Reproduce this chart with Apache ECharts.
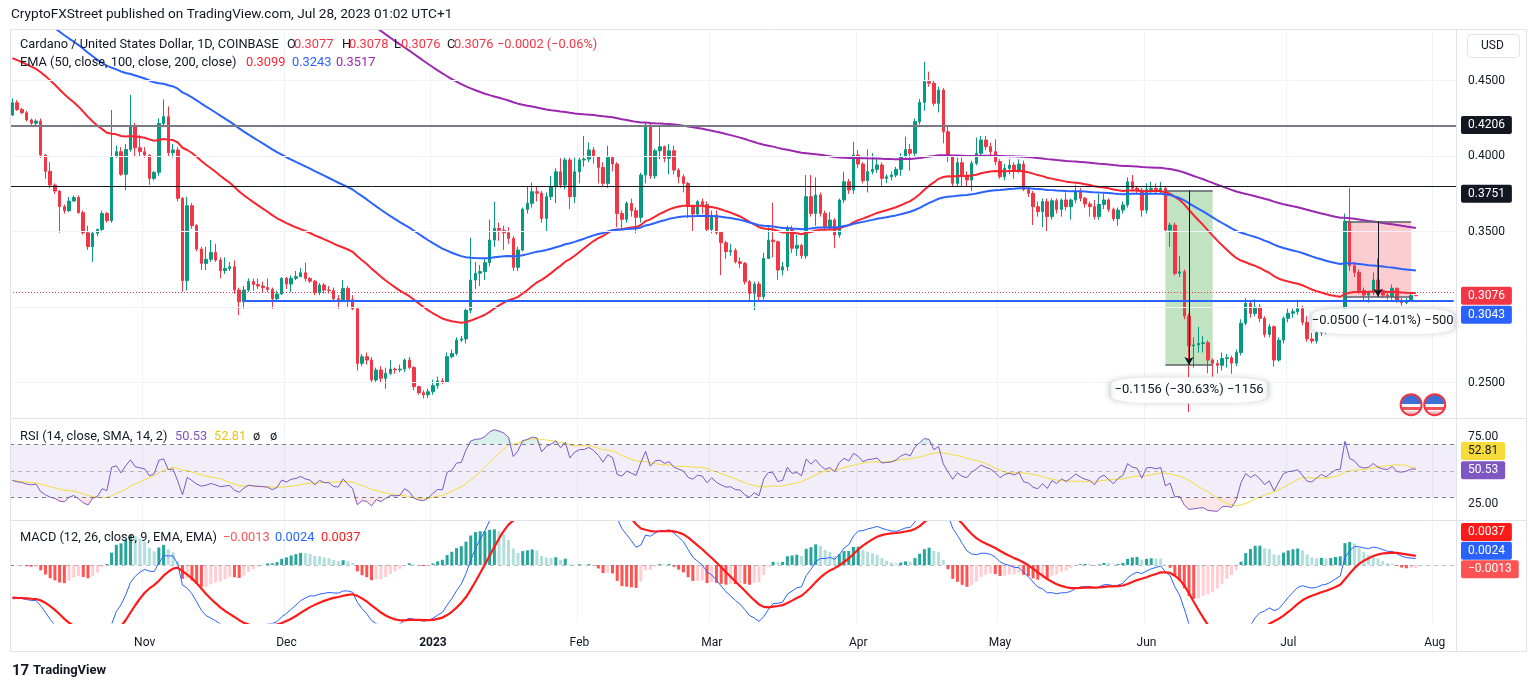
<!DOCTYPE html>
<html>
<head>
<meta charset="utf-8">
<title>ADA/USD 1D</title>
<script src="https://cdn.jsdelivr.net/npm/echarts@6.0.0/dist/echarts.min.js"></script>
<style>
  html, body { margin: 0; padding: 0; background: #fff; }
  #chart { width: 1536px; height: 690px; }
</style>
</head>
<body>
<div id="chart"></div>
<script>
// values, one daily candle per row entry
const firstDay = '2022-10-04';
const dayCount = 306; // candles run to Jul 28, axis to Aug 4

// [open, high, low, close]
const candles = [
  [.4273,.4383,.4266,.4354],[.4354,.4372,.4300,.4310],[.4310,.4320,.4278,.4288],[.4288,.4300,.4230,.4240],[.4240,.4250,.4205,.4218],[.4218,.4245,.4200,.4233],[.4233,.4250,.3990,.4008],[.4008,.4012,.3850,.3900],[.3900,.3960,.3790,.3809],[.3809,.3820,.3750,.3769],
  [.3769,.3775,.3493,.3666],[.3666,.3680,.3620,.3639],[.3639,.3730,.3630,.3703],[.3703,.3740,.3700,.3727],[.3727,.3740,.3620,.3626],[.3626,.3640,.3480,.3493],[.3493,.3540,.3380,.3401],[.3401,.3500,.3300,.3490],[.3490,.3520,.3470,.3515],[.3515,.3640,.3500,.3621],
  [.3621,.3630,.3560,.3573],[.3573,.4306,.3560,.3997],[.3997,.4070,.3990,.4030],[.4030,.4060,.3870,.3880],[.3880,.4080,.3776,.4045],[.4045,.4406,.4030,.4202],[.4202,.4220,.4000,.4056],[.4056,.4140,.4000,.4030],[.4030,.4060,.3990,.4008],[.4008,.4010,.3810,.3853],
  [.3853,.3900,.3840,.3893],[.3893,.4250,.3870,.4217],[.4217,.4376,.4200,.4262],[.4262,.4330,.4000,.4023],[.4023,.4080,.3990,.4041],[.4041,.4060,.3700,.3721],[.3721,.3730,.3103,.3176],[.3176,.3730,.3110,.3672],[.3672,.3690,.3520,.3540],[.3540,.3550,.3370,.3385],
  [.3385,.3400,.3246,.3290],[.3290,.3401,.3246,.3317],[.3317,.3445,.3300,.3363],[.3363,.3420,.3300,.3312],[.3312,.3330,.3191,.3242],[.3242,.3330,.3220,.3257],[.3257,.3300,.3240,.3268],[.3268,.3310,.3090,.3114],[.3114,.3130,.2948,.3036],[.3036,.3140,.2990,.3114],
  [.3114,.3190,.3100,.3170],[.3170,.3190,.3110,.3150],[.3150,.3190,.3120,.3140],[.3140,.3170,.3100,.3130],[.3130,.3190,.3100,.3118],[.3118,.3130,.2990,.3056],[.3056,.3110,.3040,.3087],[.3087,.3200,.3080,.3191],[.3191,.3200,.3120,.3153],[.3153,.3210,.3100,.3191],
  [.3191,.3240,.3180,.3202],[.3202,.3260,.3200,.3228],[.3228,.3295,.3170,.3190],[.3190,.3200,.3160,.3172],[.3172,.3180,.3080,.3096],[.3096,.3160,.3080,.3147],[.3147,.3160,.3090,.3114],[.3114,.3140,.3090,.3110],[.3110,.3130,.3040,.3056],[.3056,.3080,.2990,.3050],
  [.3050,.3180,.3040,.3125],[.3125,.3140,.3000,.3050],[.3050,.3080,.2980,.2990],[.2990,.3000,.2580,.2628],[.2628,.2690,.2610,.2672],[.2672,.2700,.2620,.2650],[.2650,.2670,.2500,.2518],[.2518,.2600,.2500,.2584],[.2584,.2610,.2500,.2529],[.2529,.2600,.2460,.2562],
  [.2562,.2650,.2550,.2590],[.2590,.2600,.2560,.2585],[.2585,.2620,.2570,.2590],[.2590,.2660,.2570,.2650],[.2650,.2670,.2590,.2600],[.2600,.2610,.2450,.2474],[.2474,.2480,.2420,.2434],[.2434,.2450,.2396,.2420],[.2420,.2460,.2400,.2440],[.2440,.2520,.2420,.2480],
  [.2480,.2540,.2460,.2512],[.2512,.2530,.2490,.2505],[.2505,.2700,.2500,.2672],[.2672,.2720,.2660,.2694],[.2694,.2800,.2680,.2782],[.2782,.2810,.2770,.2790],[.2790,.2990,.2760,.2980],[.2980,.3460,.2960,.3180],[.3180,.3300,.3120,.3225],[.3225,.3280,.3140,.3236],
  [.3236,.3320,.3180,.3295],[.3295,.3580,.3270,.3445],[.3445,.3699,.3400,.3522],[.3522,.3560,.3440,.3510],[.3510,.3540,.3380,.3493],[.3493,.3530,.3420,.3456],[.3456,.3470,.3240,.3264],[.3264,.3400,.3240,.3378],[.3378,.3660,.3370,.3648],[.3648,.3800,.3620,.3688],
  [.3688,.3825,.3660,.3765],[.3765,.3800,.3700,.3755],[.3755,.3770,.3560,.3588],[.3588,.3760,.3500,.3732],[.3732,.3870,.3710,.3798],[.3798,.3920,.3690,.3897],[.3897,.3986,.3790,.3809],[.3809,.3990,.3780,.3975],[.3975,.3990,.3650,.3732],[.3732,.3990,.3690,.3897],
  [.3897,.3990,.3820,.3975],[.3975,.4134,.3930,.3981],[.3981,.4090,.3960,.4041],[.4041,.4060,.3950,.3997],[.3997,.4000,.3820,.3926],[.3926,.3960,.3800,.3820],[.3820,.4070,.3790,.3992],[.3992,.4000,.3900,.3948],[.3948,.3960,.3530,.3621],[.3621,.3640,.3520,.3582],
  [.3582,.3700,.3560,.3688],[.3688,.3720,.3600,.3639],[.3639,.3660,.3490,.3595],[.3595,.3890,.3560,.3875],[.3875,.4220,.3820,.4206],[.4206,.4220,.3850,.3869],[.3869,.4050,.3850,.4036],[.4036,.4200,.3980,.4063],[.4063,.4070,.3960,.3986],[.3986,.4080,.3880,.4036],
  [.4036,.4070,.3880,.3908],[.3908,.3920,.3820,.3864],[.3864,.3880,.3760,.3820],[.3820,.3830,.3590,.3666],[.3666,.3680,.3500,.3617],[.3617,.3710,.3600,.3699],[.3699,.3720,.3620,.3680],[.3680,.3700,.3500,.3515],[.3515,.3640,.3490,.3610],[.3610,.3640,.3480,.3495],
  [.3495,.3500,.3213,.3427],[.3427,.3440,.3320,.3368],[.3368,.3420,.3340,.3375],[.3375,.3390,.3290,.3301],[.3301,.3330,.3260,.3290],[.3290,.3300,.3150,.3169],[.3169,.3180,.3047,.3092],[.3092,.3170,.2981,.3153],[.3153,.3170,.3040,.3070],[.3070,.3360,.3050,.3323],
  [.3323,.3530,.3320,.3445],[.3445,.3692,.3330,.3434],[.3434,.3440,.3180,.3246],[.3246,.3300,.3210,.3268],[.3268,.3540,.3240,.3522],[.3522,.3540,.3360,.3390],[.3390,.3478,.3340,.3410],[.3410,.3420,.3320,.3340],[.3340,.3875,.3320,.3732],[.3732,.3875,.3600,.3621],
  [.3621,.3860,.3540,.3743],[.3743,.3760,.3600,.3621],[.3621,.3640,.3510,.3533],[.3533,.3630,.3510,.3577],[.3577,.3590,.3390,.3478],[.3478,.3720,.3460,.3710],[.3710,.3897,.3690,.3831],[.3831,.3850,.3750,.3776],[.3776,.4096,.3750,.4008],[.4008,.4040,.3920,.3948],
  [.3948,.3960,.3820,.3838],[.3838,.4045,.3760,.3898],[.3898,.4020,.3880,.3913],[.3913,.3990,.3890,.3942],[.3942,.3960,.3800,.3853],[.3853,.3880,.3820,.3864],[.3864,.3900,.3840,.3875],[.3875,.3930,.3860,.3913],[.3913,.4020,.3870,.3997],[.3997,.4129,.3980,.4045],
  [.4045,.4080,.3904,.4019],[.4019,.4250,.4000,.4229],[.4229,.4380,.4210,.4357],[.4357,.4626,.4300,.4494],[.4494,.4560,.4460,.4483],[.4483,.4500,.4330,.4350],[.4350,.4460,.4290,.4438],[.4438,.4450,.4085,.4162],[.4162,.4200,.3960,.3997],[.3997,.4000,.3800,.3820],
  [.3820,.3990,.3800,.3957],[.3957,.3990,.3800,.3875],[.3875,.3900,.3800,.3842],[.3842,.3970,.3770,.3953],[.3953,.4123,.3940,.4019],[.4019,.4134,.4000,.4107],[.4107,.4134,.4040,.4063],[.4063,.4090,.4000,.4030],[.4030,.4112,.3940,.3964],[.3964,.3980,.3850,.3864],
  [.3864,.3950,.3840,.3919],[.3919,.3980,.3880,.3941],[.3941,.3960,.3850,.3908],[.3908,.3980,.3890,.3948],[.3948,.3970,.3770,.3780],[.3780,.3800,.3730,.3754],[.3754,.3770,.3544,.3666],[.3666,.3700,.3600,.3633],[.3633,.3720,.3530,.3699],[.3699,.3720,.3500,.3600],
  [.3600,.3720,.3580,.3705],[.3705,.3720,.3620,.3648],[.3648,.3720,.3600,.3710],[.3710,.3760,.3640,.3666],[.3666,.3720,.3580,.3710],[.3710,.3810,.3690,.3765],[.3765,.3790,.3700,.3721],[.3721,.3730,.3660,.3684],[.3684,.3700,.3600,.3666],[.3666,.3710,.3580,.3600],
  [.3600,.3750,.3580,.3680],[.3680,.3750,.3650,.3710],[.3710,.3720,.3630,.3648],[.3648,.3660,.3570,.3586],[.3586,.3660,.3540,.3643],[.3643,.3700,.3620,.3677],[.3677,.3860,.3660,.3831],[.3831,.3875,.3770,.3787],[.3787,.3800,.3750,.3775],[.3775,.3790,.3600,.3643],
  [.3643,.3820,.3620,.3780],[.3780,.3830,.3750,.3787],[.3787,.3820,.3750,.3769],[.3769,.3830,.3750,.3787],[.3787,.3800,.3500,.3511],[.3511,.3560,.3400,.3544],[.3544,.3560,.3210,.3224],[.3224,.3340,.3200,.3235],[.3235,.3250,.2920,.2941],[.2941,.2960,.2305,.2743],
  [.2743,.2800,.2600,.2750],[.2750,.2870,.2700,.2760],[.2760,.2810,.2700,.2765],[.2765,.2780,.2562,.2650],[.2650,.2660,.2540,.2628],[.2628,.2650,.2560,.2615],[.2615,.2700,.2580,.2660],[.2660,.2690,.2600,.2665],[.2665,.2680,.2560,.2630],[.2630,.2720,.2610,.2700],
  [.2700,.2920,.2680,.2894],[.2894,.3060,.2880,.3026],[.3026,.3040,.2930,.2959],[.2959,.3052,.2940,.3000],[.3000,.3020,.2900,.2926],[.2926,.2940,.2800,.2820],[.2820,.2890,.2800,.2871],[.2871,.2880,.2606,.2650],[.2650,.2800,.2640,.2782],[.2782,.2940,.2760,.2926],
  [.2926,.2990,.2900,.2960],[.2960,.2990,.2930,.2970],[.2970,.3050,.2950,.2990],[.2990,.3010,.2880,.2900],[.2900,.2940,.2770,.2790],[.2790,.2830,.2760,.2776],[.2776,.2850,.2760,.2830],[.2830,.2900,.2810,.2881],[.2881,.2900,.2820,.2840],[.2840,.2900,.2830,.2890],
  [.2890,.2950,.2870,.2935],[.2935,.2960,.2900,.2945],[.2945,.3620,.2860,.3569],[.3569,.3790,.3240,.3275],[.3275,.3300,.3200,.3230],[.3230,.3250,.3090,.3110],[.3110,.3130,.3040,.3080],[.3080,.3110,.3030,.3096],[.3096,.3230,.3080,.3180],[.3180,.3323,.3090,.3110],
  [.3110,.3120,.3060,.3080],[.3080,.3100,.3050,.3070],[.3070,.3150,.3050,.3125],[.3125,.3130,.3030,.3040],[.3040,.3060,.3010,.3030],[.3030,.3060,.3020,.3045],[.3045,.3100,.3040,.3077],[.3077,.3078,.3076,.3076]
];

// indicator values at the first visible bar (history before it is off-screen)
const ema50Start = 0.465, ema100Start = 0.50, ema200Start = 0.655;
const macdFastStart = 0.440, macdSlowStart = 0.4503, macdSignalStart = -0.0100;
const rsiGainStart = 0.0060, rsiLossStart = 0.0080;

// axis values
const priceGrid = [0.25, 0.30, 0.35, 0.40, 0.45];
const priceLabels = [0.45, 0.40, 0.35, 0.25];
const rsiLabels = [75, 25];
const rsiBands = [70, 50, 30];

// drawings on the chart
const hLevels = [0.4206, 0.3751];
const supportLevel = 0.3043, supportFromDay = 49;
const lastClose = 0.3076;
const juneRange = [244, 254, 0.3774, 0.2618];   // from day, to day, top, bottom
const julyRange = [282, 296, 0.3569, 0.3069];
const juneText = '\u22120.1156 (\u221230.63%) \u22121156';
const julyText = '\u22120.0500 (\u221214.01%) \u2212500';
const eventDays = [296, 301];

// legend texts
const publishedText = 'CryptoFXStreet published on TradingView.com, Jul 28, 2023 01:02 UTC+1';
const symbolText = 'Cardano / United States Dollar, 1D, COINBASE';
const lastOhlc = ['0.3077', '0.3078', '0.3076', '0.3076'];
const changeText = '\u22120.0002 (\u22120.06%)';
const emaText = 'EMA (50, close, 100, close, 200, close)';
const emaLast = ['0.3099', '0.3243', '0.3517'];
const rsiText = 'RSI (14, close, SMA, 14, 2)';
const rsiLast = ['50.53', '52.81'];
const macdText = 'MACD (12, 26, close, 9, EMA, EMA)';
const macdLast = ['\u22120.0013', '0.0024', '0.0037'];

const monthNames = ['Jan','Feb','Mar','Apr','May','Jun','Jul','Aug','Sep','Oct','Nov','Dec'];

const UP = '#089981', DOWN = '#f23645', INK = '#131722', FAINT = '#f0f3fa', BORDER = '#e0e3eb';
const RED = '#f7252f', BLUE = '#2962ff', PURPLE = '#9c27b0', RSI_C = '#7e57c2', YELLOW = '#f5dc3b';
const FONT = 'Roboto, "Liberation Sans", sans-serif';
const LEGEND = 12.8;

const days = [];
const t0 = Date.parse(firstDay + 'T00:00:00Z');
for (let i = 0; i < dayCount; i++) days.push(new Date(t0 + i * 864e5).toISOString().slice(0, 10));

const closes = candles.map(c => c[3]);

function ema(src, period, start) {
  const k = 2 / (period + 1);
  let e = start;
  return src.map((v, i) => (i === 0 ? e : (e += (v - e) * k)));
}

function rsi(src, period, g0, l0) {
  let g = g0, l = l0;
  return src.map((v, i) => {
    if (i > 0) {
      const d = v - src[i - 1];
      g = (g * (period - 1) + Math.max(d, 0)) / period;
      l = (l * (period - 1) + Math.max(-d, 0)) / period;
    }
    return 100 - 100 / (1 + g / l);
  });
}

function sma(src, n) {
  return src.map((_, i) => {
    const s = src.slice(Math.max(0, i - n + 1), i + 1);
    return s.reduce((a, b) => a + b, 0) / s.length;
  });
}

const ema50 = ema(closes, 50, ema50Start);
const ema100 = ema(closes, 100, ema100Start);
const ema200 = ema(closes, 200, ema200Start);

const rsiVals = rsi(closes, 14, rsiGainStart, rsiLossStart);
const rsiMa = sma(rsiVals, 14);

const fast = ema(closes, 12, macdFastStart);
const slow = ema(closes, 26, macdSlowStart);
const macd = fast.map((f, i) => f - slow[i]);
const signal = ema(macd, 9, macdSignalStart);
const hist = macd.map((m, i) => m - signal[i]);

const histBars = hist.map((h, i) => {
  const prev = i ? hist[i - 1] : h;
  const color = h >= 0 ? (h > prev ? '#26a69a' : '#b2dfdb') : (h > prev ? '#ffcdd2' : '#ff5252');
  return { value: h, itemStyle: { color } };
});

const isMonthStart = (i, v) => v.slice(8) === '01';

function xAxis(gridIndex, labels) {
  return {
    type: 'category', gridIndex, data: days, boundaryGap: true,
    axisLine: { show: false }, axisTick: { show: false },
    axisLabel: labels ? {
      interval: isMonthStart, margin: 14, color: INK, fontSize: 12, fontFamily: FONT,
      formatter: v => { const m = +v.slice(5, 7) - 1; return m === 0 ? '{y|' + v.slice(0, 4) + '}' : monthNames[m]; },
      rich: { y: { fontWeight: 'bold', color: INK, fontSize: 12, fontFamily: FONT } }
    } : { show: false },
    splitLine: { show: true, interval: isMonthStart, lineStyle: { color: FAINT } }
  };
}

function yAxis(gridIndex, min, max) {
  return {
    type: 'value', gridIndex, position: 'right', min, max, scale: true,
    axisLine: { show: false }, axisTick: { show: false }, axisLabel: { show: false }, splitLine: { show: false }
  };
}

const seg = (d1, v1, d2, v2, style) => [{ coord: [days[d1], v1], lineStyle: style }, { coord: [days[d2], v2] }];
const boxEdge = { color: '#5d606b', width: 1.5, type: 'solid' };

const option = {
  animation: false,
  backgroundColor: '#fff',
  grid: [
    { left: 10, right: 80, top: 30, height: 388 },
    { left: 10, right: 80, top: 419, height: 101 },
    { left: 10, right: 80, top: 521, height: 102 }
  ],
  xAxis: [xAxis(0, false), xAxis(1, false), xAxis(2, true)],
  yAxis: [yAxis(0, 0.22662, 0.48358), yAxis(1, 13.4, 88.6), yAxis(2, -0.01774, 0.01346)],
  series: [
    // price pane background: grid lines and measurement boxes
    {
      type: 'line', xAxisIndex: 0, yAxisIndex: 0, data: [], silent: true, z: 1,
      markLine: {
        silent: true, symbol: ['none', 'none'], label: { show: false },
        lineStyle: { color: FAINT, width: 1, type: 'solid' },
        data: priceGrid.map(v => ({ yAxis: v }))
      },
      markArea: {
        silent: true,
        data: [
          [{ coord: [days[juneRange[0]], juneRange[2]], itemStyle: { color: 'rgba(76,175,80,0.35)' } }, { coord: [days[juneRange[1]], juneRange[3]] }],
          [{ coord: [days[julyRange[0]], julyRange[2]], itemStyle: { color: 'rgba(242,54,69,0.25)' } }, { coord: [days[julyRange[1]], julyRange[3]] }]
        ]
      }
    },
    {
      name: 'ADAUSD', type: 'candlestick', xAxisIndex: 0, yAxisIndex: 0, z: 2,
      barWidth: 3,
      data: candles.map(c => [c[0], c[3], c[2], c[1]]),
      itemStyle: { color: UP, color0: DOWN, borderColor: UP, borderColor0: DOWN, borderWidth: 1 }
    },
    { name: 'EMA50', type: 'line', xAxisIndex: 0, yAxisIndex: 0, data: ema50, showSymbol: false, z: 3, lineStyle: { color: RED, width: 2 } },
    { name: 'EMA100', type: 'line', xAxisIndex: 0, yAxisIndex: 0, data: ema100, showSymbol: false, z: 3, lineStyle: { color: BLUE, width: 2 } },
    { name: 'EMA200', type: 'line', xAxisIndex: 0, yAxisIndex: 0, data: ema200, showSymbol: false, z: 3, lineStyle: { color: PURPLE, width: 2 } },
    // drawings
    {
      type: 'line', xAxisIndex: 0, yAxisIndex: 0, data: [], silent: true, z: 6,
      markLine: {
        silent: true, symbol: ['none', 'none'], label: { show: false },
        data: [
          { yAxis: hLevels[0], lineStyle: { color: '#787b86', width: 2, type: 'solid' } },
          { yAxis: hLevels[1], lineStyle: { color: INK, width: 1, type: 'solid' } },
          { yAxis: lastClose, lineStyle: { color: DOWN, width: 1, type: [1, 2] } },
          seg(supportFromDay, supportLevel, dayCount - 1, supportLevel, { color: BLUE, width: 2, type: 'solid' }),
          seg(juneRange[0], juneRange[2], juneRange[1], juneRange[2], boxEdge),
          seg(juneRange[0], juneRange[3], juneRange[1], juneRange[3], boxEdge),
          seg(julyRange[0], julyRange[2], julyRange[1], julyRange[2], boxEdge),
          seg(julyRange[0], julyRange[3], julyRange[1], julyRange[3], boxEdge),
          [{ coord: [days[249], juneRange[2]], lineStyle: { color: INK, width: 1, type: 'solid' } },
           { coord: [days[249], juneRange[3]], symbol: 'arrow', symbolSize: [7, 8] }],
          [{ coord: [days[289], julyRange[2]], lineStyle: { color: INK, width: 1, type: 'solid' } },
           { coord: [days[289], julyRange[3]], symbol: 'arrow', symbolSize: [7, 8] }]
        ]
      },
      markPoint: {
        silent: true,
        data: [
          { coord: [days[249], 0.2450], symbol: 'roundRect', symbolSize: [158, 26],
            itemStyle: { color: '#fff', borderColor: BORDER, borderWidth: 1, shadowBlur: 6, shadowColor: 'rgba(0,0,0,0.15)' },
            label: { show: true, position: 'inside', formatter: juneText, color: INK, fontSize: 13, fontFamily: FONT } },
          { coord: [days[290], 0.2907], symbol: 'roundRect', symbolSize: [144, 26],
            itemStyle: { color: '#fff', borderColor: BORDER, borderWidth: 1, shadowBlur: 6, shadowColor: 'rgba(0,0,0,0.15)' },
            label: { show: true, position: 'inside', formatter: julyText, color: INK, fontSize: 13, fontFamily: FONT } }
        ].concat(eventDays.map(d => ({
          coord: [days[d], 0.2354], symbol: 'circle', symbolSize: 21,
          itemStyle: {
            borderColor: '#f23645', borderWidth: 2,
            color: { type: 'linear', x: 0, y: 0, x2: 0, y2: 1, colorStops: [
              { offset: 0, color: '#3d6fd6' }, { offset: 0.45, color: '#3d6fd6' },
              { offset: 0.45, color: '#f7f7f7' }, { offset: 0.6, color: '#f7f7f7' },
              { offset: 0.6, color: '#f0525c' }, { offset: 0.75, color: '#f0525c' },
              { offset: 0.75, color: '#f7f7f7' }, { offset: 1, color: '#f0525c' }] }
          },
          label: { show: false }
        })))
      }
    },
    // RSI pane
    {
      name: 'RSI', type: 'line', xAxisIndex: 1, yAxisIndex: 1, data: rsiVals, showSymbol: false, z: 4,
      lineStyle: { color: RSI_C, width: 1 },
      markArea: { silent: true, data: [[{ yAxis: 30, itemStyle: { color: 'rgba(126,87,194,0.1)' } }, { yAxis: 70 }]] },
      markLine: {
        silent: true, symbol: ['none', 'none'], label: { show: false },
        data: rsiBands.map(v => ({ yAxis: v, lineStyle: { color: v === 50 ? 'rgba(120,123,134,0.5)' : '#787b86', width: 1, type: [4, 4] } }))
      }
    },
    { name: 'RSI MA', type: 'line', xAxisIndex: 1, yAxisIndex: 1, data: rsiMa, showSymbol: false, z: 3, lineStyle: { color: YELLOW, width: 1 } },
    { type: 'line', xAxisIndex: 1, yAxisIndex: 1, stack: 'ob', data: rsiVals.map(() => 70), showSymbol: false, silent: true, z: 1, lineStyle: { opacity: 0 } },
    { type: 'line', xAxisIndex: 1, yAxisIndex: 1, stack: 'ob', data: rsiVals.map(v => Math.max(v, 70) - 70), showSymbol: false, silent: true, z: 1,
      lineStyle: { opacity: 0 }, areaStyle: { color: 'rgba(8,153,129,0.22)' } },
    { type: 'line', xAxisIndex: 1, yAxisIndex: 1, stack: 'os', data: rsiVals.map(v => Math.min(v, 30)), showSymbol: false, silent: true, z: 1, lineStyle: { opacity: 0 } },
    { type: 'line', xAxisIndex: 1, yAxisIndex: 1, stack: 'os', data: rsiVals.map(v => 30 - Math.min(v, 30)), showSymbol: false, silent: true, z: 1,
      lineStyle: { opacity: 0 }, areaStyle: { color: 'rgba(242,54,69,0.18)' } },
    // MACD pane
    {
      name: 'Histogram', type: 'bar', xAxisIndex: 2, yAxisIndex: 2, data: histBars, barWidth: 3, z: 2,
      markLine: {
        silent: true, symbol: ['none', 'none'], label: { show: false },
        data: [{ yAxis: 0, lineStyle: { color: 'rgba(120,123,134,0.5)', width: 1, type: [4, 4] } }]
      }
    },
    { name: 'MACD', type: 'line', xAxisIndex: 2, yAxisIndex: 2, data: macd, showSymbol: false, z: 3, lineStyle: { color: BLUE, width: 1 } },
    { name: 'Signal', type: 'line', xAxisIndex: 2, yAxisIndex: 2, data: signal, showSymbol: false, z: 4, lineStyle: { color: '#ff1a1a', width: 2.2 } }
  ]
};

const chart = echarts.init(document.getElementById('chart'), null, { renderer: 'canvas' });
chart.setOption(option);

// ---- frame, legends and right-hand scale labels ----
function txt(x, y, text, fill, size, weight) {
  return { type: 'text', x, y, z: 100, silent: true,
    style: { text, fill, font: (weight || 'normal') + ' ' + (size || 12) + 'px ' + FONT, verticalAlign: 'middle' } };
}
function hline(y, x1, x2) {
  return { type: 'line', z: 90, silent: true, shape: { x1, y1: y, x2, y2: y }, style: { stroke: BORDER, lineWidth: 1 } };
}

const els = [
  { type: 'rect', z: 90, silent: true, shape: { x: 10.5, y: 29.5, width: 1516, height: 622 }, style: { fill: 'none', stroke: BORDER, lineWidth: 1 } },
  hline(418.5, 10, 1526), hline(520.5, 10, 1526),
  { type: 'line', z: 90, silent: true, shape: { x1: 1456.5, y1: 29.5, x2: 1456.5, y2: 651.5 }, style: { stroke: BORDER, lineWidth: 1 } },
  { type: 'rect', z: 90, silent: true, shape: { x: 1467.5, y: 34.5, width: 52, height: 23, r: 4 }, style: { fill: '#fff', stroke: BORDER, lineWidth: 1 } },
  txt(1481, 46, 'USD', INK, 12),

  txt(11, 15, publishedText, INK, 13.6),
  txt(20, 45, symbolText, INK, LEGEND),
  txt(287, 45, 'O', INK, LEGEND), txt(294, 45, lastOhlc[0], DOWN, LEGEND),
  txt(342, 45, 'H', INK, LEGEND), txt(349, 45, lastOhlc[1], DOWN, LEGEND),
  txt(394, 45, 'L', INK, LEGEND), txt(401, 45, lastOhlc[2], DOWN, LEGEND),
  txt(447, 45, 'C', INK, LEGEND), txt(454, 45, lastOhlc[3], DOWN, LEGEND),
  txt(497, 45, changeText, DOWN, LEGEND),
  txt(20, 63, emaText, INK, LEGEND),
  txt(246, 63, emaLast[0], RED, LEGEND), txt(292, 63, emaLast[1], BLUE, LEGEND), txt(336, 63, emaLast[2], PURPLE, LEGEND),

  txt(20, 437, rsiText, INK, LEGEND),
  txt(175, 437, rsiLast[0], RSI_C, LEGEND), txt(214, 437, rsiLast[1], '#e6c619', LEGEND),
  txt(253, 437, '\u00f8', INK, LEGEND), txt(270, 437, '\u00f8', INK, LEGEND),

  txt(20, 538, macdText, INK, LEGEND),
  txt(223, 538, macdLast[0], '#ff5252', LEGEND), txt(275, 538, macdLast[1], BLUE, LEGEND), txt(321, 538, macdLast[2], '#ff1a1a', LEGEND),

  txt(12, 671, '17', INK, 15, 'bold'),
  txt(33, 671, 'TradingView', INK, 13, 'bold')
];

// [y axis, value, text, background, text colour, vertical nudge]
const badges = priceLabels.map(v => [0, v, v.toFixed(4), null, INK, 0])
  .concat([
    [0, hLevels[0], hLevels[0].toFixed(4), INK, '#fff', 0],
    [0, hLevels[1], hLevels[1].toFixed(4), INK, '#fff', 0],
    [0, lastClose, lastClose.toFixed(4), DOWN, '#fff', 0],
    [0, supportLevel, supportLevel.toFixed(4), BLUE, '#fff', 14]
  ])
  .concat(rsiLabels.map(v => [1, v, v.toFixed(2), null, INK, 0]))
  .concat([
    [1, 52.81, rsiLast[1], YELLOW, INK, -16],
    [1, 50.53, rsiLast[0], RSI_C, '#fff', 0],
    [2, 0.0037, macdLast[2], '#ff1a1a', '#fff', -21],
    [2, 0.0024, macdLast[1], BLUE, '#fff', -6.5],
    [2, -0.0013, macdLast[0], '#ff5252', '#fff', 0]
  ]);

badges.forEach(([axis, value, text, bg, fg, nudge]) => {
  const y = chart.convertToPixel({ yAxisIndex: axis }, value) + nudge;
  const el = txt(bg ? 1461 : 1468, y, text, fg, 12);
  if (bg) Object.assign(el.style, { backgroundColor: bg, padding: [3, 7, 3, 7], borderRadius: 2 });
  el.z = 110;
  els.push(el);
});

chart.setOption({ graphic: { elements: els } });
</script>
</body>
</html>
